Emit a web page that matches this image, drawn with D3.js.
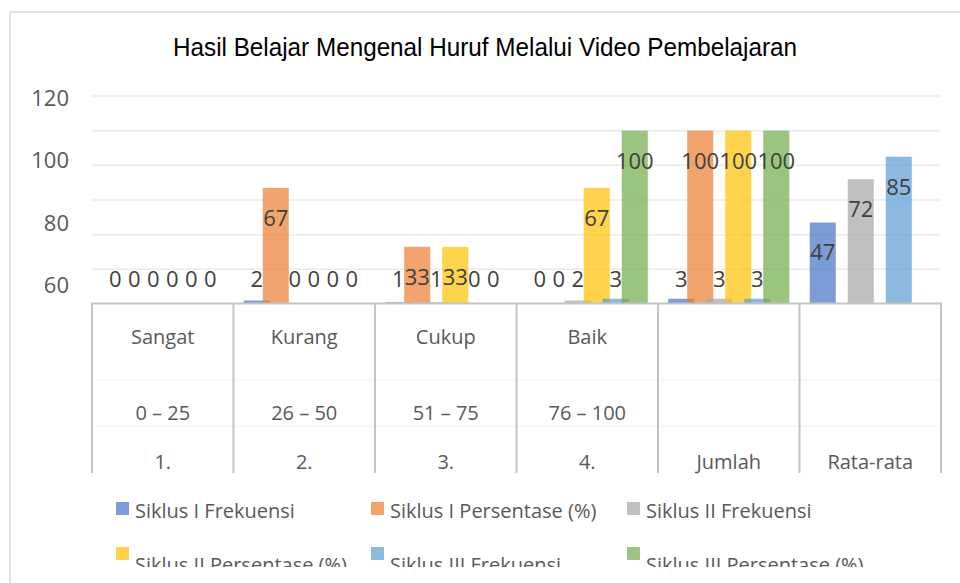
<!DOCTYPE html>
<html>
<head>
<meta charset="utf-8">
<script src="https://cdn.jsdelivr.net/npm/d3@7"></script>
<style>
  html, body { margin: 0; padding: 0; background: #ffffff; }
  svg { display: block; }
  text { font-family: "Open Sans", "Noto Sans", sans-serif; }
</style>
</head>
<body>
<svg id="chart" width="960" height="583"></svg>
<script>
// ---- data ----
const chartTitle = "Hasil Belajar Mengenal Huruf Melalui Video Pembelajaran";
const catLevel1 = ["Sangat", "Kurang", "Cukup", "Baik", "", ""];
const catLevel2 = ["0 \u2013 25", "26 \u2013 50", "51 \u2013 75", "76 \u2013 100", "", ""];
const catLevel3 = ["1.", "2.", "3.", "4.", "Jumlah", "Rata-rata"];
const seriesNames = [
  "Siklus I Frekuensi", "Siklus I Persentase (%)", "Siklus II Frekuensi",
  "Siklus II Persentase (%)", "Siklus III Frekuensi", "Siklus III Persentase (%)"
];
const siklus1Frek = [0, 2, 1, 0, 3, 47];
const siklus1Pers = [0, 67, 33, 0, 100, null];
const siklus2Frek = [0, 0, 1, 2, 3, 72];
const siklus2Pers = [0, 0, 33, 67, 100, null];
const siklus3Frek = [0, 0, 0, 3, 3, 85];
const siklus3Pers = [0, 0, 0, 100, 100, null];
const seriesValues = [siklus1Frek, siklus1Pers, siklus2Frek, siklus2Pers, siklus3Frek, siklus3Pers];
const seriesColors = ["#4472C4", "#ED7D31", "#A5A5A5", "#FFC000", "#5B9BD5", "#70AD47"];
const gridValues = [20, 40, 60, 80, 100, 120];
const yTickLabels = ["120", "100", "80", "60"];

// ---- layout ----
const svg = d3.select("#chart");
const plotLeft = 92, plotRight = 941, plotTop = 96, plotBottom = 304;
const tableBottom = 473;

const x0 = d3.scaleBand().domain(catLevel3).range([plotLeft, plotRight]).padding(0);
const step = x0.bandwidth() * 0.1343;
const barW = x0.bandwidth() * 0.184;
const x1 = d3.scalePoint().domain(seriesNames).range([-2.5 * step, 2.5 * step]);
const y = d3.scaleLinear().domain([0, 120]).range([plotBottom, plotTop]);
const color = d3.scaleOrdinal().domain(seriesNames).range(seriesColors);

// chart border
svg.append("path")
  .attr("d", `M10,583 L10,12 L960,12`)
  .attr("fill", "none").attr("stroke", "#d9d9d9").attr("stroke-width", 1.5);

// title
svg.append("text")
  .attr("x", 173).attr("y", 56)
  .attr("textLength", 624).attr("lengthAdjust", "spacingAndGlyphs")
  .style("font-family", "'Liberation Sans', Arial, sans-serif")
  .style("font-size", "25px").attr("fill", "#000")
  .text(chartTitle);

// gridlines
svg.append("g").selectAll("line").data(gridValues).join("line")
  .attr("x1", plotLeft - 1).attr("x2", plotRight)
  .attr("y1", d => y(d)).attr("y2", d => y(d))
  .attr("stroke", "#ebebeb").attr("stroke-width", 1.5);

// y tick labels (as shown in the reference)
const yLab = d3.scalePoint().domain(yTickLabels).range([98, 285]);
svg.append("g").selectAll("text").data(yTickLabels).join("text")
  .attr("x", 69).attr("y", d => yLab(d))
  .attr("dy", "0.36em").attr("text-anchor", "end")
  .style("font-size", "22px").attr("fill", "#595959")
  .text(d => d);

// bars
const barData = [];
seriesNames.forEach((s, si) => {
  catLevel3.forEach((c, ci) => {
    const v = seriesValues[si][ci];
    if (v !== null) barData.push({ s, c, v });
  });
});
svg.append("g").selectAll("rect").data(barData).join("rect")
  .attr("x", d => x0(d.c) + x0.bandwidth() / 2 + x1(d.s) - barW / 2)
  .attr("width", barW)
  .attr("y", d => y(d.v))
  .attr("height", d => y(0) - y(d.v))
  .attr("fill", d => color(d.s))
  .attr("fill-opacity", 0.7);

// category table
const tbl = svg.append("g");
tbl.selectAll("line.hz").data([380, 426]).join("line")
  .attr("x1", plotLeft).attr("x2", plotRight)
  .attr("y1", d => d).attr("y2", d => d)
  .attr("stroke", "#f3f3f3").attr("stroke-width", 1);
const bounds = catLevel3.map(c => x0(c)).concat([plotRight]);
tbl.selectAll("line.vt").data(bounds).join("line")
  .attr("x1", d => d).attr("x2", d => d)
  .attr("y1", plotBottom - 1).attr("y2", tableBottom)
  .attr("stroke", "#c4c4c4").attr("stroke-width", 2);
tbl.append("line")
  .attr("x1", plotLeft - 1).attr("x2", plotRight + 1)
  .attr("y1", plotBottom - 0.5).attr("y2", plotBottom - 0.5)
  .attr("stroke", "#c4c4c4").attr("stroke-width", 2);

const rows = [[catLevel1, 337], [catLevel2, 413], [catLevel3, 462]];
rows.forEach(([labels, yy]) => {
  tbl.append("g").selectAll("text").data(labels.map((t, i) => ({ t, c: catLevel3[i] })))
    .join("text")
    .attr("x", d => x0(d.c) + x0.bandwidth() / 2)
    .attr("y", yy).attr("dy", "0.36em")
    .attr("text-anchor", "middle")
    .style("font-size", "20px").attr("fill", "#595959")
    .text(d => d.t);
});

// data labels
svg.append("g").selectAll("text").data(barData).join("text")
  .attr("x", d => x0(d.c) + x0.bandwidth() / 2 + x1(d.s))
  .attr("y", d => Math.min(y(d.v) + 30, y(0) - 25))
  .attr("dy", "0.36em").attr("text-anchor", "middle")
  .style("font-size", "22px").attr("fill", "#404040")
  .text(d => d.v);

// legend
svg.append("defs").append("clipPath").attr("id", "legclip")
  .append("rect").attr("x", 0).attr("y", 480).attr("width", 960).attr("height", 87);
const legCols = [116, 371, 627];
const legRows = [[502, 518], [547, 572]];
const leg = svg.append("g").attr("clip-path", "url(#legclip)");
const legItems = leg.selectAll("g").data(seriesNames).join("g");
legItems.append("rect")
  .attr("x", (d, i) => legCols[i % 3])
  .attr("y", (d, i) => legRows[Math.floor(i / 3)][0])
  .attr("width", 13).attr("height", 13)
  .attr("fill", d => color(d)).attr("fill-opacity", 0.7);
legItems.append("text")
  .attr("x", (d, i) => legCols[i % 3] + 19)
  .attr("y", (d, i) => legRows[Math.floor(i / 3)][1])
  .style("font-size", "20px").attr("fill", "#595959")
  .text(d => d);
</script>
</body>
</html>
